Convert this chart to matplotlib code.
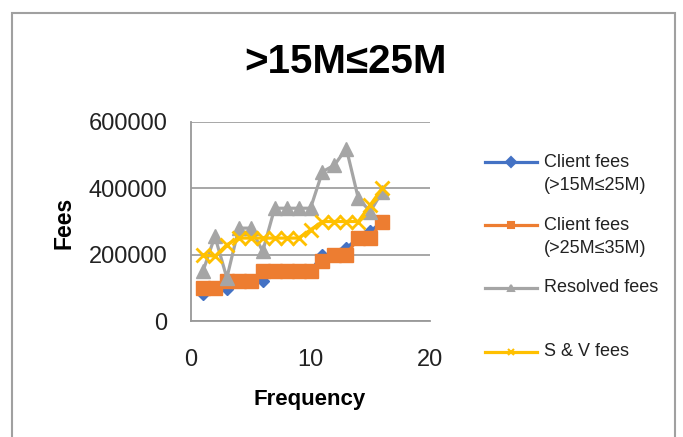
import matplotlib

matplotlib.use("Agg")

import matplotlib.pyplot as plt
from matplotlib.lines import Line2D
from matplotlib.patches import Rectangle

plt.rcParams["font.family"] = ["Liberation Sans", "DejaVu Sans"]

frequency = list(range(1, 17))
client_15_25 = [80000, 100000, 95000, 120000, 120000, 120000, 150000, 150000,
                150000, 150000, 200000, 200000, 220000, 250000, 270000, 300000]
client_25_35 = [100000, 100000, 120000, 120000, 120000, 150000, 150000, 150000,
                150000, 150000, 180000, 200000, 200000, 250000, 250000, 300000]
resolved = [150000, 255000, 130000, 280000, 280000, 210000, 340000, 340000,
            340000, 340000, 450000, 470000, 520000, 370000, 330000, 390000]
sv_fees = [200000, 195000, 230000, 250000, 250000, 250000, 250000, 250000,
           250000, 275000, 300000, 300000, 300000, 300000, 350000, 400000]

series = [
    ("Client fees\n(>15M≤25M)", client_15_25, "#4472C4", "D", 6.5),
    ("Client fees\n(>25M≤35M)", client_25_35, "#ED7D31", "s", 9.5),
    ("Resolved fees", resolved, "#A5A5A5", "^", 10),
    ("S & V fees", sv_fees, "#FFC000", "x", 10.5),
]

W, H = 683, 437
fig = plt.figure(figsize=(W / 100, H / 100), dpi=100)
ax = fig.add_axes([191 / W, 1 - 321 / H, 239 / W, 199 / H])

for label, values, color, marker, ms in series:
    ax.plot(frequency, values, color=color, lw=2.3, marker=marker, ms=ms,
            mew=2 if marker == "x" else 1, mec=color, mfc=color)

ax.set_xlim(0, 20)
ax.set_ylim(0, 600000)
ax.set_xticks([0, 10, 20])
ax.set_yticks([0, 200000, 400000, 600000])
ax.set_yticklabels(["0", "200000", "400000", "600000"])
ax.tick_params(length=0, labelsize=17, colors="#222222")
ax.tick_params(axis="y", pad=17)
ax.tick_params(axis="x", pad=20)
ax.grid(axis="y", color="#A0A0A0", lw=1.3)
ax.set_axisbelow(True)
for side in ("top", "right"):
    ax.spines[side].set_visible(False)
for side in ("left", "bottom"):
    ax.spines[side].set_color("#999999")
    ax.spines[side].set_linewidth(1.3)

fig.text(346 / W, 1 - 62 / H, ">15M≤25M", ha="center", va="center",
         fontsize=29, fontweight="bold")
fig.text(310 / W, 1 - 400 / H, "Frequency", ha="center", va="center",
         fontsize=16, fontweight="bold")
fig.text(64 / W, 1 - 223 / H, "Fees", ha="center", va="center",
         rotation=90, fontsize=16.5, fontweight="bold")

# legend drawn by hand to mimic the uneven spacing
legend_y = [174, 237, 288, 352]
for (label, values, color, marker, ms), y in zip(series, legend_y):
    first_line_y = y - 12 if "\n" in label else y
    fig.add_artist(Line2D([485 / W, 537 / W], [1 - first_line_y / H] * 2,
                          color=color, lw=2.3))
    fig.add_artist(Line2D([511 / W], [1 - first_line_y / H], color=color,
                          marker=marker, ms=5, mew=1.5, mec=color, mfc=color))
    fig.text(544 / W, 1 - y / H, label, ha="left", va="center", fontsize=13,
             linespacing=1.5, color="#222222")

fig.add_artist(Rectangle((12 / W, -0.05), 663 / W, 1 - 13 / H + 0.05,
                         transform=fig.transFigure, fill=False,
                         edgecolor="#A0A0A0", lw=1.5))

fig.savefig("out.png", dpi=100)
